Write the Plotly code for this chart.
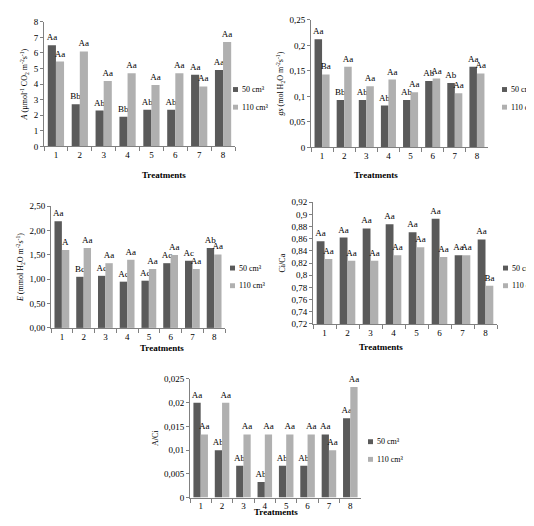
import plotly.graph_objects as go

treat = ["1", "2", "3", "4", "5", "6", "7", "8"]
A50 = [6.5, 2.7, 2.3, 1.9, 2.35, 2.35, 4.6, 4.9]
A110 = [5.45, 6.1, 4.2, 4.7, 3.95, 4.7, 3.85, 6.7]
A50_l = ["Aa", "Bb", "Ab", "Bb", "Ab", "Ab", "Aa", "Aa"]
A110_l = ["Aa"] * 8
gs50 = [0.212, 0.093, 0.093, 0.082, 0.093, 0.130, 0.126, 0.158]
gs110 = [0.143, 0.158, 0.120, 0.133, 0.108, 0.135, 0.106, 0.145]
gs50_l = ["Aa", "Bb", "Ab", "Ab", "Ab", "Ab", "Ab", "Aa"]
gs110_l = ["Ba", "Aa", "Aa", "Aa", "Aa", "Aa", "Aa", "Aa"]
E50 = [2.19, 1.05, 1.07, 0.95, 0.97, 1.33, 1.38, 1.64]
E110 = [1.60, 1.64, 1.33, 1.40, 1.21, 1.50, 1.21, 1.51]
E50_l = ["Aa", "Bc", "Ac", "Ac", "Ac", "Ac", "Ac", "Ab"]
E110_l = ["A", "Aa", "Aa", "Aa", "Aa", "Aa", "Aa", "Aa"]
C50 = [0.856, 0.862, 0.877, 0.884, 0.871, 0.893, 0.833, 0.859]
C110 = [0.827, 0.824, 0.824, 0.833, 0.846, 0.830, 0.833, 0.783]
C50_l = ["Aa"] * 8
C110_l = ["Aa"] * 7 + ["Ba"]
AC50 = [0.020, 0.010, 0.0067, 0.0033, 0.0067, 0.0067, 0.0133, 0.0167]
AC110 = [0.0133, 0.020, 0.0133, 0.0133, 0.0133, 0.0133, 0.010, 0.0233]
AC50_l = ["Aa", "Ab", "Ab", "Ab", "Ab", "Ab", "Aa", "Aa"]
AC110_l = ["Aa"] * 8
series_names = ["50 cm³", "110 cm³"]

W, H = 534, 526
FONT = "Liberation Serif"
panels = [
    dict(d=(A50, A110, A50_l, A110_l), x=(36, 227), y=(9, 136), rng=[0, 8], dt=1, fmt="d",
         title="<i>A</i> (µmol<sup>-1</sup> CO<sub>2</sub> m<sup>-2</sup>s<sup>-1</sup>)", leg=(225, 78), tt=158),
    dict(d=(gs50, gs110, gs50_l, gs110_l), x=(303, 480), y=(7, 137), rng=[0, 0.25], dt=0.05, fmt="",
         title="<i>gs</i> (mol H<sub>2</sub>O m<sup>-2</sup>s<sup>-1</sup>)", leg=(494, 78), tt=158),
    dict(d=(E50, E110, E50_l, E110_l), x=(43, 217), y=(197, 321), rng=[0, 2.5], dt=0.5, fmt=".2f",
         title="<i>E</i> (mmol H<sub>2</sub>O m<sup>-2</sup>s<sup>-1</sup>)", leg=(222, 260), tt=341),
    dict(d=(C50, C110, C50_l, C110_l), x=(305, 489), y=(193, 317), rng=[0.72, 0.92], dt=0.02, fmt="",
         title="Ci/Ca", leg=(495, 260), tt=340),
    dict(d=(AC50, AC110, AC50_l, AC110_l), x=(182, 353), y=(373, 494), rng=[0, 0.025], dt=0.005, fmt="",
         title="A/Ci", leg=(360, 437), tt=516),
]

fig = go.Figure()
layout = dict(width=W, height=H, margin=dict(l=0, r=0, t=0, b=0), paper_bgcolor="white",
              plot_bgcolor="white", separators=",.", font=dict(family=FONT, size=9, color="black"),
              barmode="group", bargap=0.32, bargroupgap=0, showlegend=False,
              annotations=[], shapes=[])
colors = ["#5a5a5a", "#b0b0b0"]
for i, p in enumerate(panels):
    n = "" if i == 0 else str(i + 1)
    v50, v110, l50, l110 = p["d"]
    for j, (vals, labs) in enumerate([(v50, l50), (v110, l110)]):
        fig.add_trace(go.Bar(x=treat, y=vals, text=labs, textposition="outside",
                             textfont=dict(size=9, family=FONT, color="black"), cliponaxis=False,
                             constraintext="none",
                             marker=dict(color=colors[j], line=dict(width=0)),
                             name=series_names[j], xaxis="x" + n, yaxis="y" + n,
                             offsetgroup=str(j)))
        # manual legend entry
        lx, ly = p["leg"][0], p["leg"][1] + 18 * j
        layout["shapes"].append(dict(type="rect", xref="paper", yref="paper",
                                     x0=lx / W, x1=(lx + 5) / W, y0=1 - (ly + 2.5) / H,
                                     y1=1 - (ly - 2.5) / H, fillcolor=colors[j], line=dict(width=0)))
        layout["annotations"].append(dict(text=series_names[j], x=(lx + 7) / W, y=1 - ly / H,
                                          xref="paper", yref="paper", xanchor="left",
                                          yanchor="middle", showarrow=False, font=dict(size=8)))
    layout["xaxis" + n] = dict(domain=[p["x"][0] / W, p["x"][1] / W], anchor="y" + n,
                               type="category", showline=True, linecolor="#808080", ticks="outside",
                               tickson="boundaries", ticklen=4, tickcolor="#808080", showgrid=False,
                               tickfont=dict(size=9))
    layout["yaxis" + n] = dict(domain=[1 - p["y"][1] / H, 1 - p["y"][0] / H], anchor="x" + n,
                               range=p["rng"], dtick=p["dt"], tick0=p["rng"][0], tickformat=p["fmt"],
                               showline=True, linecolor="#808080", ticks="outside", ticklen=3,
                               tickcolor="#808080", showgrid=False, zeroline=False,
                               tickfont=dict(size=9),
                               title=dict(text=p["title"], font=dict(size=8), standoff=4))
    layout["annotations"].append(dict(text="<b>Treatments</b>", x=(p["x"][0] + p["x"][1]) / 2 / W,
                                      y=1 - p["tt"] / H, xref="paper", yref="paper",
                                      showarrow=False, font=dict(size=9)))
fig.update_layout(**layout)
fig.write_html("out.html")
